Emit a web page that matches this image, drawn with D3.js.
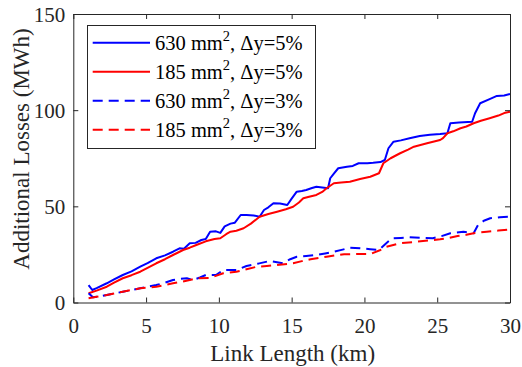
<!DOCTYPE html>
<html><head><meta charset="utf-8">
<script src="https://cdn.jsdelivr.net/npm/d3@7"></script>
<style>body{margin:0;background:#fff}svg{display:block}text{font-family:"Liberation Serif","Tinos","Times New Roman","DejaVu Serif",serif}</style>
</head><body><svg id="c" width="522" height="367"></svg>
<script>
// ---- data ----
const xTicks = [0, 5, 10, 15, 20, 25, 30];
const yTicks = [0, 50, 100, 150];
const xLabel = "Link Length (km)";
const yLabel = "Additional Losses (MWh)";
const legendArea = ["630", "185", "630", "185"];
const legendDelta = ["5%", "5%", "3%", "3%"];
const seriesColors = ["#0000ff", "#ff0000", "#0000ff", "#ff0000"];
const seriesDashed = [false, false, true, true];

// [km, MWh]
const s630dy5 = [[1.05,9.0],[1.3,6.5],[1.6,7.5],[2.3,10],[2.8,12],[3.4,14.3],[4.0,16.2],[4.6,18.6],[5.1,20.5],[5.7,23],[6.3,24.5],[6.85,26.4],[7.3,28.2],[7.6,28],[8.0,30.8],[8.4,31],[8.8,32.5],[9.1,33],[9.4,36.8],[9.8,37],[10.1,36.2],[10.4,39.6],[10.8,41],[11.1,41.5],[11.5,45.5],[11.9,45.5],[12.4,45.2],[12.8,44.6],[13.1,48.1],[13.4,49.5],[13.75,51.6],[14.2,51.5],[14.7,50.7],[15.0,54],[15.35,57.6],[15.7,58],[16.0,58.5],[16.4,59.5],[16.7,60.2],[17.1,59.8],[17.5,59.4],[17.65,64.6],[17.9,67],[18.2,69.8],[18.8,70.6],[19.2,71],[19.6,72.4],[20.2,72.4],[20.6,72.6],[21.1,73],[21.4,74.1],[21.65,80.2],[22.0,83.6],[22.5,84.3],[23.1,85.4],[23.8,86.6],[24.5,87.2],[25.2,87.6],[25.7,88],[25.9,93.2],[26.5,93.6],[27.4,94],[27.6,98.4],[27.95,103.6],[28.6,105.7],[29.1,107.4],[29.6,107.6],[30,108.4]];
const s185dy5 = [[1.05,4.8],[1.6,6.2],[2.3,8.2],[2.8,10.3],[3.4,12.6],[4.0,14.2],[4.6,16],[5.1,18],[5.7,20.4],[6.3,22.5],[6.85,24.7],[7.2,26],[7.54,27.3],[8.0,28.5],[8.45,29.9],[9.1,31.8],[9.7,33],[10.1,33.4],[10.5,35.5],[10.8,36.8],[11.2,37.3],[11.7,38.6],[12.2,41],[12.8,44.6],[13.4,46],[14.0,47.2],[14.6,48.5],[15.1,49.8],[15.5,52],[15.8,54.2],[16.2,55],[16.7,55.9],[17.1,57.5],[17.4,59.4],[17.9,62],[18.4,62.4],[19.0,62.8],[19.7,64.2],[20.4,65.4],[21.0,67.2],[21.3,72.4],[21.8,75],[22.45,77.6],[23.0,79.5],[23.4,81],[24.3,82.8],[25.2,84.5],[25.4,85.5],[25.7,88],[26.1,89],[26.6,90.6],[27.0,91.5],[27.5,93.2],[28.0,94.5],[28.6,95.8],[29.2,97.2],[29.6,98.5],[30,99.2]];
const s630dy3 = [[1.05,4.8],[1.35,2.7],[1.8,3.2],[2.3,3.9],[2.9,4.8],[3.4,5.6],[4.0,6.5],[4.6,7.4],[5.1,8.2],[5.7,9.1],[6.3,10.3],[6.85,11.7],[7.3,12.3],[7.8,12.6],[8.2,11.7],[8.7,13],[9.1,14.3],[9.8,14.3],[10.3,16.9],[11.2,16.9],[11.9,19],[12.7,20.2],[13.5,21.6],[14.4,20.4],[14.9,22.5],[15.35,23.8],[16.0,24.2],[16.7,24.7],[17.3,25.5],[17.9,26.4],[18.5,27.5],[19.0,28.5],[19.7,28.2],[20.4,27.7],[21.0,27.3],[21.5,30.8],[21.9,33.4],[22.5,33.6],[23.1,33.9],[24.0,33.6],[24.7,33.4],[25.3,34.5],[25.9,36],[26.8,36.8],[27.5,36],[27.8,40.3],[28.2,42.5],[28.64,43.8],[29.3,44.3],[30,44.6]];
const s185dy3 = [[1.05,2.2],[1.6,3.0],[2.3,3.9],[2.9,4.8],[3.4,5.6],[4.0,6.5],[4.6,7.4],[5.1,7.8],[5.7,8.2],[6.3,9.1],[6.85,10],[7.5,10.8],[8.0,11.7],[8.45,12.6],[9.4,12.8],[10.3,15.2],[11.2,16],[11.9,17.3],[12.6,18.6],[13.3,19],[14.0,19.5],[15.1,20.4],[15.7,21.5],[16.3,22.5],[17.4,23.8],[18.0,24.5],[18.6,25.1],[19.5,25.2],[20.4,25.2],[21.1,27.3],[21.5,29],[22.45,30.8],[23.6,31.6],[24.4,32.2],[25.2,32.9],[25.8,33.6],[26.4,34.6],[27.0,35.2],[27.5,36],[28.4,36.8],[29.2,37.4],[30,38]];
const allSeries = [s630dy5, s185dy5, s630dy3, s185dy3];

// ---- layout ----
const axisColor = "#262626";
const L = 73.3, R = 510, T = 14, B = 302.5;
const svg = d3.select("#c");
const x = d3.scaleLinear().domain([0, 30]).range([L, R]);
const y = d3.scaleLinear().domain([0, 150]).range([B, T]);

// series
const line = d3.line().x(d => x(d[0])).y(d => y(d[1]));
allSeries.forEach((s, i) => {
  svg.append("path").datum(s)
    .attr("d", line)
    .attr("fill", "none")
    .attr("stroke", seriesColors[i])
    .attr("stroke-width", 2)
    .attr("stroke-linejoin", "round")
    .attr("stroke-dasharray", seriesDashed[i] ? "10,6" : null);
});

// axes
function styleAxis(g) {
  g.attr("font-family", null).attr("font-size", null);
  g.selectAll("path.domain").attr("stroke", axisColor).attr("stroke-width", 1);
  g.selectAll(".tick line").attr("stroke", axisColor).attr("stroke-width", 1);
  g.selectAll("text").style("font-size", "21px").attr("fill", axisColor);
}
const gx = svg.append("g").attr("transform", `translate(0,${B})`)
  .call(d3.axisBottom(x).tickValues(xTicks).tickFormat(d3.format("d")).tickSizeInner(-5).tickSizeOuter(0));
styleAxis(gx);
gx.selectAll("text").attr("y", 15.5).attr("dy", "0.71em");
const gt = svg.append("g").attr("transform", `translate(0,${T})`)
  .call(d3.axisTop(x).tickValues(xTicks).tickFormat("").tickSizeInner(-5).tickSizeOuter(0));
styleAxis(gt);
const gy = svg.append("g").attr("transform", `translate(${L},0)`)
  .call(d3.axisLeft(y).tickValues(yTicks).tickFormat(d3.format("d")).tickSizeInner(-5).tickSizeOuter(0));
styleAxis(gy);
gy.selectAll("text").attr("x", -8).attr("dy", "0.34em");
const gr = svg.append("g").attr("transform", `translate(${R},0)`)
  .call(d3.axisRight(y).tickValues(yTicks).tickFormat("").tickSizeInner(-5).tickSizeOuter(0));
styleAxis(gr);

// axis labels
svg.append("text").attr("x", (L + R) / 2 + 1).attr("y", 361)
  .attr("text-anchor", "middle").style("font-size", "23px")
  .attr("fill", axisColor).text(xLabel);
svg.append("text").attr("transform", "translate(29,149) rotate(-90)")
  .attr("text-anchor", "middle").style("font-size", "23px")
  .attr("fill", axisColor).text(yLabel);

// legend
const lg = svg.append("g");
lg.append("rect").attr("x", 87.5).attr("y", 25.5).attr("width", 228).attr("height", 123)
  .attr("fill", "#fff").attr("stroke", axisColor).attr("stroke-width", 1);
legendArea.forEach((a, i) => {
  const cy = 42.7 + i * 29;
  lg.append("line").attr("x1", 92.7).attr("x2", 150).attr("y1", cy).attr("y2", cy)
    .attr("stroke", seriesColors[i]).attr("stroke-width", 2)
    .attr("stroke-dasharray", seriesDashed[i] ? "10,6" : null);
  const t = lg.append("text").attr("x", 155).attr("y", cy + 7.2)
    .style("font-size", "20.5px").attr("fill", "#000");
  t.append("tspan").text(a + " mm");
  t.append("tspan").attr("dy", -9).style("font-size", "14.5px").text("2");
  t.append("tspan").attr("dy", 9).text(", \u0394y=" + legendDelta[i]);
});
</script></body></html>
